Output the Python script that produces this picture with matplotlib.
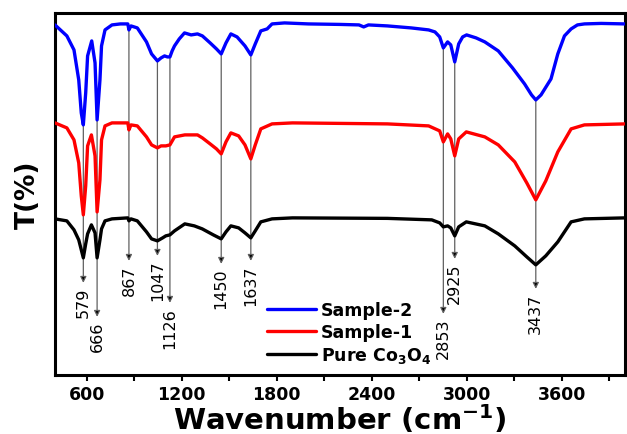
import numpy as np
import matplotlib
matplotlib.use("Agg")
import matplotlib.pyplot as plt

plt.rcParams['font.family'] = ['DejaVu Sans']
plt.rcParams['mathtext.fontset'] = 'dejavusans'

# FTIR spectra (stacked, arbitrary transmittance units)
wn_s2 = [400, 475, 520, 550, 566, 579, 594, 606, 632, 653, 666, 684, 694, 716, 760, 813, 860, 867,
         880, 920, 978, 1010, 1047, 1070, 1092, 1110, 1126, 1140, 1155, 1185, 1218, 1260, 1300,
         1331, 1380, 1420, 1450, 1480, 1511, 1550, 1600, 1637, 1665, 1700, 1740, 1771, 1850, 2000,
         2200, 2320, 2350, 2380, 2500, 2650, 2760, 2800, 2830, 2853, 2880, 2900, 2925, 2950, 2975,
         3000, 3060, 3115, 3200, 3290, 3366, 3410, 3437, 3470, 3533, 3576, 3618, 3660, 3700, 3744,
         3850, 4000]
t_s2 = [349, 338, 324, 294, 261, 249, 281, 318, 333, 311, 254, 294, 328, 344, 349, 350, 350, 344,
        348, 346, 332, 320, 313, 316, 318, 317, 317, 323, 328, 335, 341, 339, 340,
        338, 331, 325, 320, 331, 340, 337, 328, 319, 330, 343, 345, 350, 351, 350,
        349.5, 349, 347, 349, 348, 346, 344, 342, 337, 326, 332, 329, 312, 330, 337,
        339, 336, 332, 323, 306, 290, 279, 274, 279, 295, 320, 338, 345, 349, 350,
        350.5, 350]

wn_s1 = [400, 475, 520, 550, 566, 579, 594, 606, 630, 653, 666, 684, 694, 716, 760, 860, 867, 880,
         920, 978, 1010, 1047, 1070, 1100, 1126, 1155, 1220, 1300, 1331, 1380, 1420, 1450, 1480,
         1511, 1560, 1600, 1637, 1665, 1700, 1771, 1900, 2500, 2760, 2830, 2853, 2880, 2900, 2925,
         2950, 2998, 3115, 3200, 3304, 3380, 3437, 3500, 3576, 3660, 3744, 4000]
t_s1 = [251, 246, 234, 211, 178, 159, 188, 228, 239, 218, 162, 194, 234, 248, 251, 251, 244, 249,
        248, 237, 229, 226, 228, 228, 229, 237, 239, 239, 236, 230, 225, 220, 232,
        241, 238, 229, 215, 229, 245, 250, 251, 250, 248, 243, 232, 240, 235, 218,
        235, 242, 237, 229, 212, 191, 174, 193, 222, 245, 249, 250]

wn_co = [400, 475, 520, 550, 579, 594, 606, 630, 653, 666, 684, 694, 716, 760, 860, 867, 880, 920,
         978, 1010, 1047, 1080, 1100, 1126, 1155, 1220, 1280, 1330, 1400, 1450, 1480, 1511, 1560,
         1600, 1637, 1665, 1700, 1771, 1900, 2500, 2780, 2830, 2853, 2880, 2900, 2925, 2950, 2998,
         3115, 3200, 3304, 3380, 3437, 3500, 3576, 3660, 3744, 4000]
t_co = [155, 153, 144, 134, 116, 130, 140, 149, 141, 116, 134, 145, 153, 155, 156, 153, 155, 153,
        142, 135, 133, 136, 138, 139, 143, 150, 148, 145, 139, 135, 142, 148, 146,
        141, 136, 143, 152, 155, 156, 155.5, 154, 151, 147, 148, 146, 138, 147, 152,
        148, 140, 128, 117, 109, 118, 132, 152, 155, 156]

series_names = ['Sample-2', 'Sample-1', r'Pure Co$_{\mathbf{3}}$O$_{\mathbf{4}}$']
series_colors = ['#0000ff', '#ff0000', '#000000']

# Assigned bands and where their arrow heads end
peak_wn = [579, 666, 867, 1047, 1126, 1450, 1637, 2853, 2925, 3437]
peak_tip = [91, 57, 113, 118, 71, 110, 113, 60, 115, 85]

fig = plt.figure(figsize=(6.27, 4.35), dpi=100)
ax = fig.add_axes([0.0877, 0.136, 0.909, 0.832])

for x, y, name, col in zip([wn_s2, wn_s1, wn_co], [t_s2, t_s1, t_co], series_names, series_colors):
    ax.plot(x, y, color=col, lw=2.4, label=name, zorder=3,
            solid_capstyle='round', solid_joinstyle='round')

for w, tip in zip(peak_wn, peak_tip):
    start = np.interp(w, wn_s2, t_s2)
    ax.annotate('', xy=(w, tip), xytext=(w, start),
                arrowprops=dict(arrowstyle='-|>', color='#606060', lw=0.9,
                                mutation_scale=9, shrinkA=0, shrinkB=0,
                                fc='black', ec='#606060'),
                zorder=1)
    ax.text(w, tip - 4, str(w), rotation=90, ha='center', va='top', fontsize=11.5,
            color='black')

ax.set_xlim(400, 4000)
ax.set_ylim(-1, 361)
ax.set_xticks(np.arange(600, 4000, 600))
ax.set_xticks(np.arange(900, 4000, 600), minor=True)
ax.set_yticks([])
ax.tick_params(axis='x', which='both', direction='out', length=4, width=1.5, pad=3,
               labelsize=12.5)
for lab in ax.get_xticklabels():
    lab.set_fontweight('bold')
for sp in ax.spines.values():
    sp.set_linewidth(2.2)

ax.set_xlabel(r'Wavenumber (cm$^{\mathbf{-1}}$)', fontsize=21, fontweight='bold', labelpad=0)
ax.set_ylabel('T(%)', fontsize=19, fontweight='bold', labelpad=10)

leg = ax.legend(loc='upper left', bbox_to_anchor=(0.372, 0.205), frameon=False,
                prop={'weight': 'bold', 'size': 12.5}, handlelength=2.8,
                handletextpad=0.3, labelspacing=0.25, borderpad=0, borderaxespad=0)

fig.savefig('out.png', dpi=100, facecolor='white')
